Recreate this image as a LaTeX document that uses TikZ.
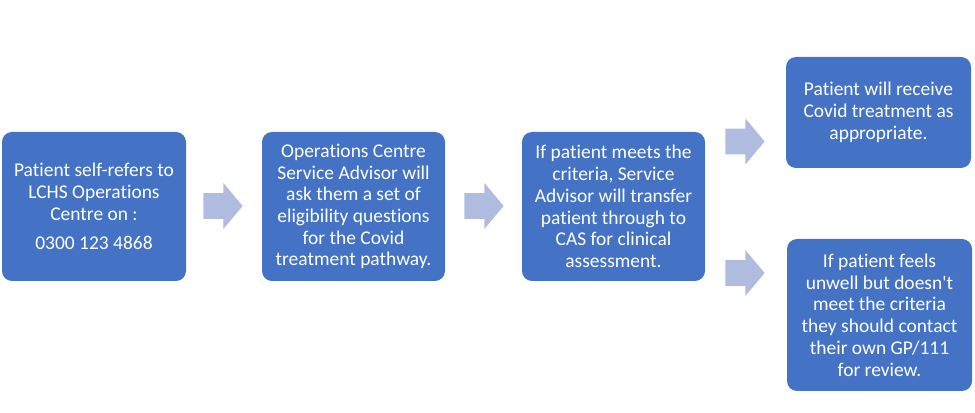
\documentclass[tikz,border=0pt]{standalone}
\usepackage{fontspec}
\setmainfont{Carlito}[Ligatures={TeXOff,NoCommon}]
\usetikzlibrary{shapes.arrows}
\definecolor{stepblue}{HTML}{4472C4}
\definecolor{arrowblue}{RGB}{175,188,224}
\tikzset{
  stepbox/.style={fill=stepblue, rounded corners=7.5pt, text=white, align=center,
    font=\fontsize{14.6}{16.3}\selectfont, inner sep=0pt},
  blockarr/.style={single arrow, fill=arrowblue, minimum height=29.5pt,
    inner xsep=0pt, inner ysep=9.5pt, single arrow head extend=7.5pt,
    single arrow tip angle=100, anchor=tip}
}
\begin{document}
\begin{tikzpicture}[x=0.75pt,y=-0.75pt]%self-referral pathway
\useasboundingbox (0,0) rectangle (975,413);
\node[stepbox, minimum width=138pt, minimum height=111.75pt] (refer) at (94,206.5)
  {Patient self-refers to\\LCHS Operations\\Centre on :\\[6pt]0300 123 4868};
\node[stepbox, minimum width=137.25pt, minimum height=111.75pt] (advisor) at (353.5,206.5)
  {Operations Centre\\Service Advisor will\\ask them a set of\\eligibility questions\\for the Covid\\treatment pathway.};
\node[stepbox, minimum width=137.25pt, minimum height=111.75pt] (transfer) at (613.5,206.5)
  {If patient meets the\\criteria, Service\\Advisor will transfer\\patient through to\\CAS for clinical\\assessment.};
\node[stepbox, minimum width=138.75pt, minimum height=83.25pt] (treat) at (878.5,112.5)
  {Patient will receive\\Covid treatment as\\appropriate.};
\node[stepbox, minimum width=138.75pt, minimum height=114pt] (gp) at (879.5,315)
  {If patient feels\\unwell but doesn't\\meet the criteria\\they should contact\\their own GP/111\\for review.};
%block arrows in the gaps, placed by their tips
\foreach \x/\y [count=\i] in {243/206, 504/206, 765/141.5, 765/273}
  \node[blockarr] (arr\i) at (\x,\y) {};
\end{tikzpicture}
\end{document}
